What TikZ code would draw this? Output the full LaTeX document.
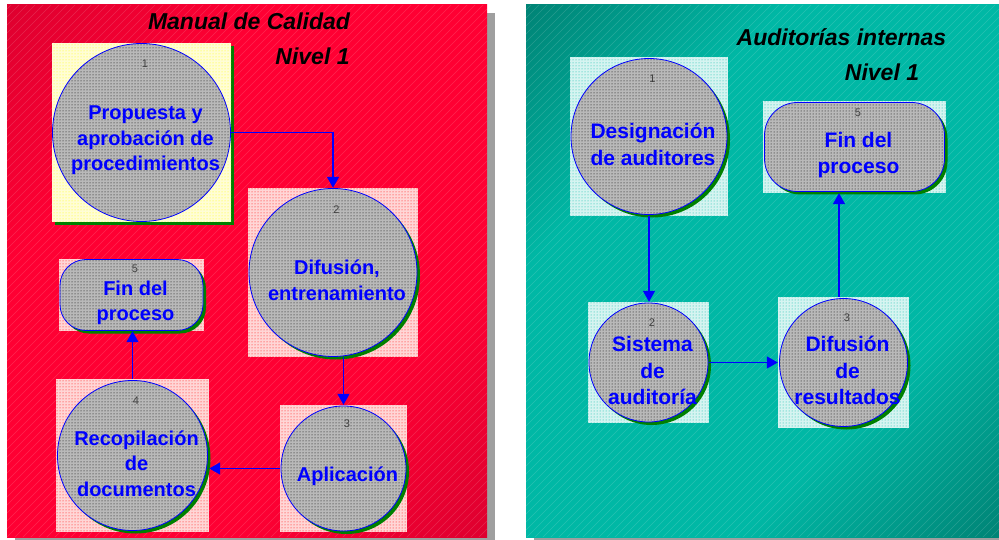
\documentclass[tikz,border=0pt]{standalone}
\usepackage{fontspec}
\setmainfont{Liberation Sans}
\usetikzlibrary{arrows.meta,shadows,patterns}

\definecolor{manualdark}{HTML}{C4002C}
\definecolor{manualmid}{HTML}{FF0033}
\definecolor{auditdark}{HTML}{005A50}
\definecolor{auditmid}{HTML}{00B8A5}
\pgfdeclareverticalshading{manualpanel}{100bp}{color(0bp)=(manualdark); color(33bp)=(manualmid);
  color(67bp)=(manualmid); color(100bp)=(manualdark)}
\pgfdeclareverticalshading{auditpanel}{100bp}{color(0bp)=(auditdark); color(33bp)=(auditmid);
  color(67bp)=(auditmid); color(100bp)=(auditdark)}

\begin{document}
\begin{tikzpicture}[x=1pt, y=-1pt,
    tile/.style={rectangle, inner sep=0, preaction={fill=#1!16!white}, pattern=dots, pattern color=#1},
    bubble/.style={circle, inner sep=0, draw=blue, line width=.8pt, preaction={fill=gray!55!white}, pattern=dots, pattern color=black},
    pill/.style={bubble, rectangle, rounded corners=#1},
    greenshadow/.style={drop shadow={shadow xshift=3pt, shadow yshift=-3pt, fill=green!50!black, opacity=1}},
    stepnum/.style={anchor=base, inner sep=0, xshift=3.5pt, text=black!75, font=\fontsize{11}{11}\selectfont},
    proctext/.style={align=center, inner sep=0, xshift=4pt, yshift=-8pt, text=blue, font=\bfseries\fontsize{20}{25.5}\selectfont},
    paneltitle/.style={anchor=base, inner sep=0, font=\bfseries\itshape\fontsize{23}{23}\selectfont},
    flow/.style={draw=blue, line width=1.5pt, -{Triangle[length=11pt,width=12pt]}},
    hatch/.style={white, opacity=.15, line width=.4pt}]
  \useasboundingbox (0,0) rectangle (999,540);

  % panels
  \fill[gray!75] (15,13) rectangle (495,540);
  \fill[gray!75] (534,13) rectangle (999,540);
  \shade[shading=manualpanel, shading angle=45] (7,5) rectangle (487,537);
  \shade[shading=auditpanel, shading angle=45] (526,5) rectangle (999,537);
  \begin{scope}
    \clip (7,5) rectangle (487,537) (526,5) rectangle (999,537);
    \foreach \k in {0,8,...,1544}
      \draw[hatch] (\k-540,540) -- (\k,0);
  \end{scope}

  \node[paneltitle] (mt) at (249,30) {Manual de Calidad};
  \node[paneltitle] (mn) at (312.5,65) {Nivel 1};
  \node[paneltitle] (at) at (841.5,46) {Auditorías internas};
  \node[paneltitle] (an) at (882,81) {Nivel 1};

  % Manual de Calidad
  \node[greenshadow, tile=yellow, minimum width=179pt, minimum height=179pt] (m1) at (141.5,132.5) {};
  \node[bubble, minimum size=178pt] (m1c) at (m1) {};
  \node[stepnum] (m1n) at ([yshift=-24.5pt]m1c.north) {1};
  \node[proctext] (m1t) at (m1c) {Propuesta y\\aprobación de\\procedimientos};

  \node[tile=red, minimum width=170pt, minimum height=169pt] (m2) at (333,272.5) {};
  \node[greenshadow, bubble, minimum size=168pt] (m2c) at (m2) {};
  \node[stepnum] (m2n) at ([yshift=-25pt]m2c.north) {2};
  \node[proctext] (m2t) at (m2c) {Difusión,\\entrenamiento};

  \node[tile=red, minimum width=127pt, minimum height=127pt] (m3) at (343.5,468.5) {};
  \node[greenshadow, bubble, minimum size=125pt] (m3c) at (m3) {};
  \node[stepnum] (m3n) at ([yshift=-22pt]m3c.north) {3};
  \node[proctext] (m3t) at (m3c) {Aplicación};

  \node[tile=red, minimum width=153pt, minimum height=153pt] (m4) at (132.5,455.5) {};
  \node[greenshadow, bubble, minimum size=150pt] (m4c) at (m4) {};
  \node[stepnum] (m4n) at ([yshift=-24pt]m4c.north) {4};
  \node[proctext] (m4t) at (m4c) {Recopilación\\de\\documentos};

  \node[tile=red, minimum width=145pt, minimum height=72pt] (m5) at (131.5,295) {};
  \node[greenshadow, pill=26pt, minimum width=143pt, minimum height=71pt] (m5c) at (m5) {};
  \node[stepnum] (m5n) at ([yshift=-13.5pt]m5c.north) {5};
  \node[proctext] (m5t) at (m5c) {Fin del\\proceso};

  % Auditorías internas
  \begin{scope}[proctext/.append style={font=\bfseries\fontsize{21}{26.5}\selectfont}]
    \node[tile=auditmid, minimum width=158pt, minimum height=159pt] (a1) at (649,136.5) {};
    \node[greenshadow, bubble, minimum size=156pt] (a1c) at (a1) {};
    \node[stepnum] (a1n) at ([yshift=-24pt]a1c.north) {1};
    \node[proctext] (a1t) at (a1c) {Designación\\de auditores};

    \node[tile=auditmid, minimum width=121pt, minimum height=121pt] (a2) at (648.5,362.5) {};
    \node[greenshadow, bubble, minimum size=119pt] (a2c) at (a2) {};
    \node[stepnum] (a2n) at ([yshift=-24pt]a2c.north) {2};
    \node[proctext] (a2t) at (a2c) {Sistema\\de\\auditoría};

    \node[tile=auditmid, minimum width=131pt, minimum height=131pt] (a3) at (843.5,362.5) {};
    \node[greenshadow, bubble, minimum size=128pt] (a3c) at (a3) {};
    \node[stepnum] (a3n) at ([yshift=-23.5pt]a3c.north) {3};
    \node[proctext] (a3t) at (a3c) {Difusión\\de\\resultados};

    \node[tile=auditmid, minimum width=183pt, minimum height=92pt] (a5) at (854.5,147) {};
    \node[greenshadow, pill=33pt, minimum width=180pt, minimum height=89pt] (a5c) at (a5) {};
    \node[stepnum] (a5n) at ([yshift=-14.5pt]a5c.north) {5};
    \node[proctext] (a5t) at (a5c) {Fin del\\proceso};
  \end{scope}

  \coordinate (a3top) at ([xshift=-4.5pt]a3.north);
  \begin{scope}[flow]
    \draw (m1.east) -| (m2.north);
    \draw (m3.north |- m2.south) -- (m3.north);
    \draw (m3.west) -- (m4.east |- m3.west);
    \draw (m4.north) -- (m4.north |- m5.south);
    \draw (a1.south) -- (a1.south |- a2.north);
    \draw (a2.east) -- (a3.west |- a2.east);
    \draw (a3top) -- (a3top |- a5.south);
  \end{scope}
\end{tikzpicture}
\end{document}
